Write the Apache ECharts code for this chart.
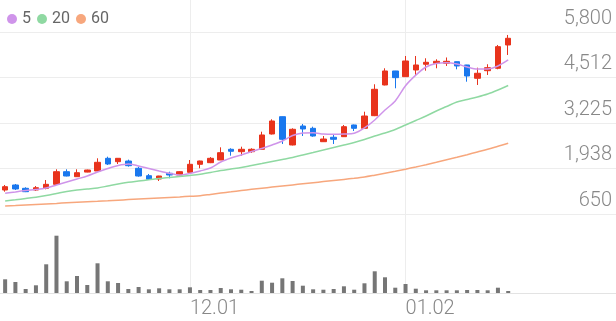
<!DOCTYPE html>
<html>
<head>
<meta charset="utf-8">
<script src="https://cdn.jsdelivr.net/npm/echarts@6/dist/echarts.min.js"></script>
<style>
html,body{margin:0;padding:0;background:#fff;}
#c{width:616px;height:321px;}
</style>
</head>
<body>
<div id="c"></div>
<script>
const dates = [
"11.05","11.06","11.07","11.10","11.11","11.12","11.13","11.14","11.17","11.18",
"11.19","11.20","11.21","11.24","11.25","11.26","11.27","11.28","12.01","12.02",
"12.03","12.04","12.05","12.08","12.09","12.10","12.11","12.12","12.15","12.16",
"12.17","12.18","12.19","12.22","12.23","12.24","12.26","12.29","12.30","01.02",
"01.05","01.06","01.07","01.08","01.09","01.12","01.13","01.14","01.15","01.16",
"01.19","01.20","01.21","01.22","01.23","01.26","01.27","01.28","01.29","01.30"];

const opens  = [1329,1471,1377,1329,1377,1490,1847,1706,1836,1867,2226,2130,2149,1943,1734,1640,1802,1754,1830,2056,2102,2178,2481,2413,2413,2481,2914,3404,2603,3140,3075,2696,2821,2838,3169,3075,3432,4301,4697,4536,4725,4887,4915,4915,4960,4867,4490,4705,4773,5433];
const closes = [1423,1358,1281,1394,1490,1847,1725,1819,1895,2113,2065,2226,2017,1725,1632,1725,1754,1847,2056,2150,2226,2385,2425,2481,2481,2886,3282,2764,3047,3056,2857,2772,2764,3121,3075,3423,4179,4697,4508,4980,4867,4943,4971,4971,4838,4555,4632,4790,5385,5622];
const lows   = [1281,1329,1270,1301,1349,1480,1715,1700,1830,1860,2037,2065,1990,1706,1625,1584,1660,1745,1830,1943,2090,2178,2300,2300,2380,2470,2900,2631,2590,2857,2838,2690,2631,2830,2999,3070,3420,4290,4207,4530,4584,4705,4773,4838,4745,4394,4301,4584,4745,5150];
const highs  = [1471,1499,1406,1442,1612,1915,1915,1915,1905,2226,2272,2230,2188,1990,1782,1730,1847,1860,2178,2160,2260,2537,2510,2555,2510,2979,3330,3410,3075,3197,3121,2857,2886,3169,3180,3545,4321,4773,4700,5121,5121,5056,5028,5079,4965,4870,4790,4887,5433,5716];
const volumes = [13700,11000,4000,7700,28700,57300,11700,17000,8000,29700,11700,10000,4000,6000,3700,4700,3700,3700,5700,3000,3000,5000,3700,3300,2000,12300,10300,14700,12000,7300,3700,3300,4000,6700,3300,9700,21700,15700,5300,9000,4300,2700,2700,2700,2700,3000,3000,2700,5300,2000];

const ma5  = [1236,1273,1315,1343,1386,1471,1556,1640,1725,1839,1938,2022,2065,2008,1938,1867,1802,1754,1796,1867,1952,2122,2235,2320,2419,2504,2603,2716,2872,2942,2951,2914,2905,2914,2934,3084,3310,3593,3850,4280,4580,4810,4909,4932,4895,4810,4754,4754,4838,5008];
const ma20 = [1018,1052,1089,1125,1174,1230,1287,1329,1358,1386,1442,1499,1547,1584,1618,1655,1683,1711,1740,1774,1824,1881,1924,1966,2023,2079,2136,2192,2249,2320,2390,2461,2532,2603,2673,2758,2857,2942,3041,3169,3296,3423,3565,3692,3820,3890,3961,4046,4159,4287];
const ma60 = [876,891,908,922,936,950,967,981,995,1009,1024,1041,1058,1075,1091,1106,1120,1134,1151,1168,1205,1242,1278,1315,1349,1380,1411,1442,1474,1505,1536,1567,1598,1629,1660,1697,1748,1802,1858,1918,1980,2045,2113,2184,2255,2328,2405,2481,2566,2651];

const priceTicks = [650,1937.5,3225,4512.5,5800];
const priceLabels = ["650","1,938","3,225","4,512","5,800"];
const legendNames = ["5","20","60"];

const RED = '#e8331c', BLUE = '#1a78ee';
const C5 = '#cf94ea', C20 = '#8fd9a2', C60 = '#f7a77d';

const candleData = opens.map((o,i)=>[o, closes[i], lows[i], highs[i]]);
const monthStart = (idx) => idx > 0 && idx < dates.length && dates[idx].slice(0,2) !== dates[idx-1].slice(0,2);
// half-slot categories so that band boundaries fall on candle centres
const halfSlots = [];
dates.forEach(d => { halfSlots.push(d + 'a'); halfSlots.push(d + 'b'); });

const chart = echarts.init(document.getElementById('c'), null, {renderer:'canvas'});
chart.setOption({
  animation:false,
  textStyle:{fontFamily:'Roboto'},
  legend:{
    data:legendNames, left:2, top:6, icon:'circle', itemWidth:10, itemHeight:10, itemGap:6,
    textStyle:{color:'#666', fontSize:16, fontFamily:'Roboto'}
  },
  grid:[
    {left:0, right:0, top:32, height:182},
    {left:0, right:0, top:215, bottom:28},
    {left:0, right:0, top:0, bottom:28}
  ],
  xAxis:[
    {type:'category', gridIndex:0, data:dates, boundaryGap:true, show:false},
    {type:'category', gridIndex:1, data:dates, boundaryGap:true,
      axisLine:{show:true, lineStyle:{color:'#e3e3e3', width:1}},
      axisTick:{show:false},
      splitLine:{show:false},
      axisLabel:{interval:(idx)=>monthStart(idx), align:'left', margin:6,
        color:'#888', fontSize:20, fontFamily:'Roboto', fontWeight:300}
    },
    {type:'category', gridIndex:2, data:halfSlots, boundaryGap:true,
      axisLine:{show:false}, axisTick:{show:false}, axisLabel:{show:false},
      splitLine:{show:true, interval:(idx)=> idx % 2 === 1 && monthStart((idx-1)/2), lineStyle:{color:'#ededed', width:1}}
    }
  ],
  yAxis:[
    {type:'value', gridIndex:0, position:'right', min:priceTicks[0], max:priceTicks[priceTicks.length-1], interval:1287.5,
      axisLine:{show:false}, axisTick:{show:false},
      splitLine:{show:true, lineStyle:{color:'#ededed', width:1}},
      axisLabel:{inside:true, margin:4, verticalAlign:'bottom', lineHeight:27, color:'#888', fontSize:20, fontFamily:'Roboto', fontWeight:300,
        formatter:(v)=>priceLabels[Math.round((v-priceTicks[0])/1287.5)]}
    },
    {type:'value', gridIndex:1, min:0, max:78000, show:false, splitLine:{show:false}},
    {type:'value', gridIndex:2, show:false, splitLine:{show:false}}
  ],
  series:[
    {type:'candlestick', xAxisIndex:0, yAxisIndex:0, data:candleData, barWidth:6,
      itemStyle:{color:RED, color0:BLUE, borderColor:RED, borderColor0:BLUE, borderWidth:1}},
    {name:'5', type:'line', xAxisIndex:0, yAxisIndex:0, data:ma5, showSymbol:false, smooth:0.3,
      lineStyle:{color:C5, width:1.5}, itemStyle:{color:C5}},
    {name:'20', type:'line', xAxisIndex:0, yAxisIndex:0, data:ma20, showSymbol:false, smooth:0.3,
      lineStyle:{color:C20, width:1.5}, itemStyle:{color:C20}},
    {name:'60', type:'line', xAxisIndex:0, yAxisIndex:0, data:ma60, showSymbol:false, smooth:0.3,
      lineStyle:{color:C60, width:1.5}, itemStyle:{color:C60}},
    {type:'bar', xAxisIndex:1, yAxisIndex:1, data:volumes, barWidth:4, itemStyle:{color:'#767676'}}
  ]
});
</script>
</body>
</html>
